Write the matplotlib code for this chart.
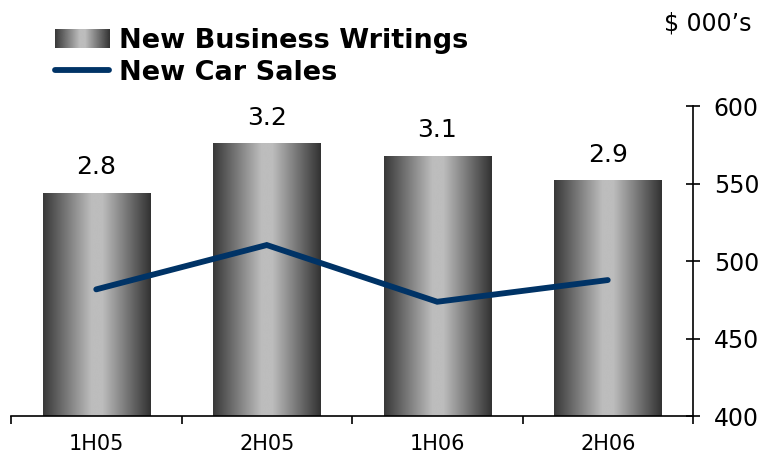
import numpy as np
import matplotlib
matplotlib.use('Agg')
import matplotlib.pyplot as plt
from matplotlib.colors import LinearSegmentedColormap
from matplotlib.legend_handler import HandlerBase
from matplotlib.image import BboxImage
from matplotlib.transforms import Bbox, TransformedBbox
from matplotlib.patches import Rectangle
from matplotlib.lines import Line2D

# data
periods = ['1H05', '2H05', '1H06', '2H06']
business_writings = [2.8, 3.2, 3.1, 2.9]
car_sales = [481.7, 510.3, 473.7, 487.7]
right_ticks = [400, 450, 500, 550, 600]

LINE_COLOR = '#003366'
grad_cmap = LinearSegmentedColormap.from_list(
    'cyl', [(0.0, '#383838'), (0.45, '#bdbdbd'), (0.55, '#bdbdbd'), (1.0, '#323232')])
grad = np.linspace(0, 1, 256).reshape(1, -1)


class GradientHandler(HandlerBase):
    def create_artists(self, legend, orig_handle, xdescent, ydescent,
                       width, height, fontsize, trans):
        bb = Bbox.from_bounds(-xdescent, -ydescent, width, height)
        im = BboxImage(TransformedBbox(bb, trans), cmap=grad_cmap,
                       interpolation='bicubic')
        im.set_data(grad)
        return [im]


fig = plt.figure(figsize=(7.65, 4.58), dpi=100)
W, H = 765, 458
ax = fig.add_axes([11 / W, (H - 416) / H, (693 - 11) / W, (416 - 106) / H])
ax2 = ax.twinx()

x = np.arange(len(periods))
base = 1.0  # floor of the hidden left scale

# bars (hidden left scale)
bars = ax.bar(x, [v - base for v in business_writings], width=0.63,
              bottom=base, color='none', edgecolor='none')
for b, v in zip(bars, business_writings):
    x0, w = b.get_x(), b.get_width()
    im = ax.imshow(grad, cmap=grad_cmap, extent=(x0, x0 + w, base, v),
                   aspect='auto', interpolation='bicubic', zorder=2)
    im.set_clip_path(b)
    ax.text(x0 + w / 2, v + 0.11, f'{v:.1f}', ha='center', va='bottom',
            fontsize=18, color='black')
ax.set_xlim(-0.5, 3.5)
ax.set_ylim(base, 3.5)

# line (right scale)
ax2.plot(x, car_sales, color=LINE_COLOR, linewidth=4.2,
         solid_capstyle='round', solid_joinstyle='miter', zorder=3)
ax2.set_ylim(400, 600)
ax2.set_yticks(right_ticks)
ax2.tick_params(axis='y', direction='inout', length=10, width=1.2,
                labelsize=17, pad=10, colors='black')

for a in (ax, ax2):
    for side in ('top', 'left', 'right', 'bottom'):
        a.spines[side].set_visible(False)
ax2.spines['right'].set_visible(True)
ax2.spines['right'].set_linewidth(1.2)
ax.spines['bottom'].set_visible(True)
ax.spines['bottom'].set_linewidth(1.2)

ax.set_yticks([])
ax.set_xticks(x)
ax.set_xticklabels(periods, fontsize=15)
ax.tick_params(axis='x', length=0, pad=13)
ax.set_xticks(np.arange(-0.5, 3.6, 1), minor=True)
ax.tick_params(axis='x', which='minor', length=6, width=1.2, direction='out')

# legend
handles = [Rectangle((0, 0), 1, 1), Line2D([], [], color=LINE_COLOR, lw=4.2,
                                           solid_capstyle='round')]
fig.legend(handles, ['New Business Writings', 'New Car Sales'],
           handler_map={Rectangle: GradientHandler()},
           loc='upper left', bbox_to_anchor=(55 / W, 1 - 28 / H),
           frameon=False, prop={'weight': 'bold', 'size': 19.5},
           handlelength=2.0, handletextpad=0.38, labelspacing=0.22,
           borderpad=0, borderaxespad=0)

fig.text(752 / W, 1 - 11 / H, '$ 000\u2019s', ha='right', va='top', fontsize=17)

fig.savefig('out.png', dpi=100)
